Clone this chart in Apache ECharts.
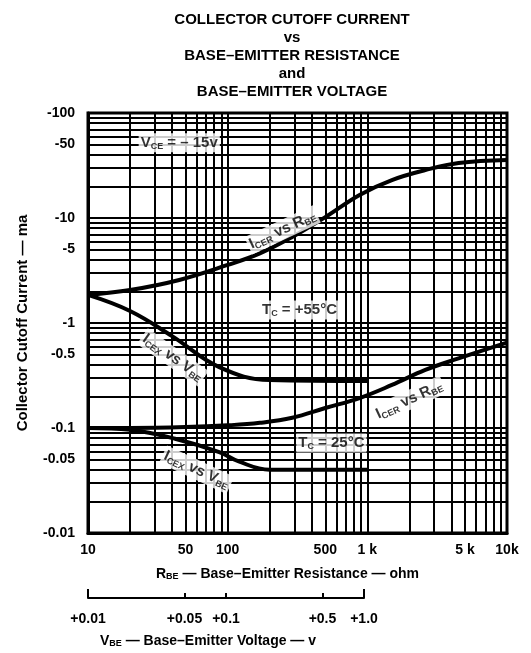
<!DOCTYPE html>
<html><head><meta charset="utf-8">
<script src="https://cdn.jsdelivr.net/npm/echarts@6/dist/echarts.min.js"></script>
<style>html,body{margin:0;padding:0;background:#fff}#c{width:531px;height:653px}</style>
</head><body><div id="c"></div>
<script>
// ---- data (collector cutoff current magnitude, mA) ----
const rbe55 = [10, 20, 45, 100, 170, 290, 500, 880, 1500, 2600, 4500, 10000];
const icer55 = [1.85, 2.06, 2.57, 3.57, 4.6, 6.6, 10.2, 16.6, 23, 28.6, 33.4, 35.7];
const rbe25 = [10, 20, 50, 100, 170, 290, 500, 880, 1500, 2600, 4500, 10000];
const icer25 = [0.1, 0.1, 0.102, 0.106, 0.112, 0.125, 0.155, 0.193, 0.257, 0.357, 0.46, 0.65];
const vbe55 = [0.01, 0.02, 0.04, 0.087, 0.2, 1.0];
const icex55 = [1.85, 1.3, 0.75, 0.38, 0.286, 0.28];
const vbe25 = [0.01, 0.02, 0.042, 0.087, 0.12, 0.2, 1.0];
const icex25 = [0.1, 0.096, 0.079, 0.059, 0.048, 0.04, 0.04];

// ---- tick labels ----
const yTickValues = [100, 50, 10, 5, 1, 0.5, 0.1, 0.05, 0.01];
const yTickLabels = ['-100', '-50', '-10', '-5', '-1', '-0.5', '-0.1', '-0.05', '-0.01'];
const xTickValues = [10, 50, 100, 500, 1000, 5000, 10000];
const xTickLabels = ['10', '50', '100', '500', '1 k', '5 k', '10k'];
const vTickValues = [0.01, 0.05, 0.1, 0.5, 1];
const vTickLabels = ['+0.01', '+0.05', '+0.1', '+0.5', '+1.0'];
const vEndTicks = [0.01, 1];

// ---- annotations (axis 0 = R_BE, axis 1 = V_BE) ----
const annotations = [
  {text: 'V{s|CE} = \u2013 15v', axis: 0, x: 45, y: 52, rotate: 0},
  {text: 'I{s|CER} vs R{s|BE}', axis: 0, x: 247, y: 7.7, rotate: 25},
  {text: 'T{s|C} = +55\u00b0C', axis: 0, x: 327, y: 1.33, rotate: 0},
  {text: 'I{s|CEX} vs V{s|BE}', axis: 1, x: 0.0405, y: 0.47, rotate: -35},
  {text: 'I{s|CER} vs R{s|BE}', axis: 0, x: 1995, y: 0.185, rotate: 25},
  {text: 'T{s|C} = 25\u00b0C', axis: 0, x: 553, y: 0.072, rotate: 0},
  {text: 'I{s|CEX} vs V{s|BE}', axis: 1, x: 0.06, y: 0.04, rotate: -25}
];

function lookup(vals, labels) {
  return function (v) {
    for (let i = 0; i < vals.length; i++) {
      if (Math.abs(v - vals[i]) / vals[i] < 1e-6) return labels[i];
    }
    return '';
  };
}
function pairs(xs, ys) { return xs.map((x, i) => [x, ys[i]]); }

const FONT = '"Liberation Sans", Arial, sans-serif';
const INK = '#000';
const subRich = {s: {fontSize: 9, fontFamily: FONT, fontWeight: 'bold', color: INK, verticalAlign: 'bottom', lineHeight: 9}};

const chart = echarts.init(document.getElementById('c'), null, {renderer: 'canvas'});

const curveStyle = {color: INK, width: 4};
function curve(xs, ys, xi) {
  return {
    type: 'line', xAxisIndex: xi, yAxisIndex: 0, data: pairs(xs, ys),
    smooth: 0.4, showSymbol: false, symbol: 'none', lineStyle: curveStyle, z: 5, silent: true
  };
}
function labelSeries(axis) {
  return {
    type: 'scatter', xAxisIndex: axis, yAxisIndex: 0, symbolSize: 0, z: 10, silent: true,
    data: annotations.filter(a => a.axis === axis).map(a => ({
      value: [a.x, a.y],
      label: {
        show: true, position: 'inside', formatter: a.text, rotate: a.rotate,
        fontSize: 15, fontFamily: FONT, fontWeight: 'bold', color: INK,
        backgroundColor: '#fff', padding: [1, 2, 1, 2], lineHeight: 17, rich: subRich
      }
    }))
  };
}

const gridLine = {show: true, lineStyle: {color: INK, width: 2}};

chart.setOption({
  animation: false,
  backgroundColor: '#fff',
  title: {
    text: 'COLLECTOR CUTOFF CURRENT\nvs\nBASE\u2013EMITTER RESISTANCE\nand\nBASE\u2013EMITTER VOLTAGE',
    left: 287, top: 6, textAlign: 'center',
    textStyle: {fontFamily: FONT, fontSize: 15, fontWeight: 'bold', color: INK, lineHeight: 18}
  },
  grid: [
    {left: 88, right: 24, top: 113, bottom: 120, show: true, borderColor: INK, borderWidth: 3, containLabel: false},
    {left: 88, width: 276, top: 597, height: 1, show: false}
  ],
  xAxis: [
    {
      type: 'log', logBase: 10, min: 10, max: 10000, gridIndex: 0,
      name: 'R{s|BE} \u2014 Base\u2013Emitter Resistance \u2014 ohm',
      nameLocation: 'middle', nameGap: 34,
      nameTextStyle: {fontFamily: FONT, fontSize: 14, fontWeight: 'bold', color: INK, rich: subRich, padding: [0, 20, 0, 0]},
      axisLine: {show: true, lineStyle: {color: INK, width: 3}},
      axisTick: {show: false},
      axisLabel: {
        customValues: xTickValues, formatter: lookup(xTickValues, xTickLabels),
        margin: 10, fontFamily: FONT, fontSize: 14, fontWeight: 'bold', color: INK
      },
      splitLine: gridLine,
      minorTick: {show: false, splitNumber: 9},
      minorSplitLine: gridLine
    },
    {type: 'log', logBase: 10, min: 0.01, max: 10, gridIndex: 0, show: false},
    {
      type: 'log', logBase: 10, min: 0.01, max: 1, gridIndex: 1, position: 'bottom',
      name: 'V{s|BE} \u2014 Base\u2013Emitter Voltage \u2014 v',
      nameLocation: 'middle', nameGap: 36,
      nameTextStyle: {fontFamily: FONT, fontSize: 14, fontWeight: 'bold', color: INK, rich: subRich, padding: [0, 36, 0, 0]},
      axisLine: {show: true, lineStyle: {color: INK, width: 2}},
      axisTick: {show: true, inside: true, length: 5, lineStyle: {color: INK, width: 2}, customValues: vTickValues},
      axisLabel: {
        customValues: vTickValues, formatter: lookup(vTickValues, vTickLabels),
        margin: 14, fontFamily: FONT, fontSize: 14, fontWeight: 'bold', color: INK
      },
      splitLine: {show: false}
    },
    {
      type: 'log', logBase: 10, min: 0.01, max: 1, gridIndex: 1, position: 'bottom',
      axisLine: {show: false},
      axisTick: {show: true, inside: true, length: 9, lineStyle: {color: INK, width: 2}, customValues: vEndTicks},
      axisLabel: {show: false},
      splitLine: {show: false}
    }
  ],
  yAxis: [
    {
      type: 'log', logBase: 10, min: 0.01, max: 100, gridIndex: 0,
      name: 'Collector Cutoff Current \u2014 ma', nameLocation: 'middle', nameGap: 58,
      nameTextStyle: {fontFamily: FONT, fontSize: 15, fontWeight: 'bold', color: INK},
      axisLine: {show: true, lineStyle: {color: INK, width: 3}},
      axisTick: {show: false},
      axisLabel: {
        customValues: yTickValues, formatter: lookup(yTickValues, yTickLabels),
        margin: 13, fontFamily: FONT, fontSize: 14, fontWeight: 'bold', color: INK
      },
      splitLine: gridLine,
      minorTick: {show: false, splitNumber: 9},
      minorSplitLine: gridLine
    },
    {type: 'value', gridIndex: 1, show: false}
  ],
  series: [
    curve(rbe55, icer55, 0),
    curve(rbe25, icer25, 0),
    curve(vbe55, icex55, 1),
    curve(vbe25, icex25, 1),
    labelSeries(0),
    labelSeries(1)
  ]
});
</script>
</body></html>
